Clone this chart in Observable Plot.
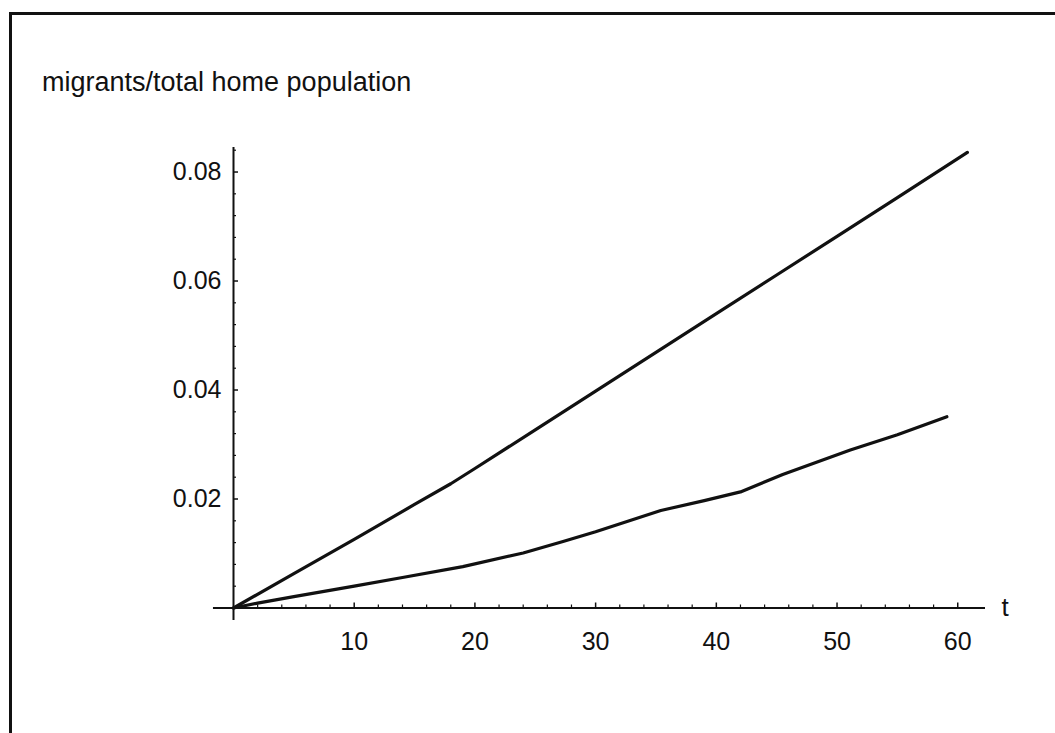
<!DOCTYPE html>
<html>
<head>
<meta charset="utf-8">
<script src="https://cdn.jsdelivr.net/npm/d3@7"></script>
<script src="https://cdn.jsdelivr.net/npm/@observablehq/plot@0.6"></script>
<style>
  html, body { margin: 0; padding: 0; background: #fff; overflow: hidden; width: 1055px; height: 733px; }
  #frame { position: absolute; left: 9px; top: 12px; width: 2000px; height: 2000px;
           border-left: 3px solid #111; border-top: 3px solid #111; pointer-events: none; }
  #title { position: absolute; left: 42px; top: 69px; font-family: "Liberation Sans", Arial, sans-serif;
           font-size: 27px; line-height: 27px; color: #111; white-space: nowrap; }
  #chart { position: absolute; left: 0; top: 0; }
</style>
</head>
<body>
<div id="frame"></div>
<div id="title">migrants/total home population</div>
<div id="chart"></div>
<script>
// ---- data ----
const tUpper = [0, 5, 10, 15, 18, 20, 25, 30, 35, 40, 45, 50, 55, 60.8];
const yUpper = [0, 0.0063, 0.0126, 0.0190, 0.0228, 0.0256, 0.0327, 0.0398, 0.0469, 0.0540, 0.0611, 0.0682, 0.0753, 0.0836];

const tLower = [0, 2, 5, 10, 14, 19, 24, 27.3, 30, 35.4, 39, 42, 45.5, 51.1, 55, 59.1];
const yLower = [0, 0.0009, 0.0021, 0.0040, 0.0056, 0.0076, 0.0101, 0.0122, 0.0140, 0.0179, 0.0197, 0.0213, 0.0245, 0.0290, 0.0318, 0.0351];

const xMajorTicks = [10, 20, 30, 40, 50, 60];
const xMajorLabels = ["10", "20", "30", "40", "50", "60"];
const xMinorTicks = [2, 4, 6, 8, 12, 14, 16, 18, 22, 24, 26, 28, 32, 34, 36, 38, 42, 44, 46, 48, 52, 54, 56, 58];
const yMajorTicks = [0.02, 0.04, 0.06, 0.08];
const yMajorLabels = ["0.02", "0.04", "0.06", "0.08"];
const yMinorTicks = [0.004, 0.008, 0.012, 0.016, 0.024, 0.028, 0.032, 0.036, 0.044, 0.048, 0.052, 0.056, 0.064, 0.068, 0.072, 0.076, 0.084];

const xDomain = [0, 62.3];
const xAxisStart = -1.66;
const yDomain = [0, 0.0845];
const yAxisStart = -0.0023;
const xAxisLabel = "t";

// ---- build tables ----
const upper = tUpper.map((t, i) => ({t, v: yUpper[i]}));
const lower = tLower.map((t, i) => ({t, v: yLower[i]}));
const xLab = xMajorTicks.map((x, i) => ({x, label: xMajorLabels[i]}));
const yLab = yMajorTicks.map((y, i) => ({y, label: yMajorLabels[i]}));

const ink = "#111";
const chart = Plot.plot({
  width: 1055,
  height: 733,
  marginLeft: 233,
  marginRight: 70,
  marginTop: 147,
  marginBottom: 125.5,
  style: {background: "transparent", fontFamily: "'Liberation Sans', Arial, sans-serif", color: ink},
  x: {domain: xDomain, axis: null},
  y: {domain: yDomain, axis: null},
  marks: [
    // axes lines
    Plot.ruleY([0], {x1: xAxisStart, x2: xDomain[1], stroke: ink, strokeWidth: 2.2}),
    Plot.ruleX([0], {y1: yAxisStart, y2: yDomain[1], stroke: ink, strokeWidth: 2}),
    // ticks
    Plot.axisX(xMajorTicks, {anchor: "bottom", tickSize: -5, fill: "none", stroke: ink, strokeWidth: 1.5, label: null}),
    Plot.axisX(xMinorTicks, {anchor: "bottom", tickSize: -3, fill: "none", stroke: ink, strokeWidth: 1.2, label: null}),
    Plot.axisY(yMajorTicks, {anchor: "left", tickSize: -5, fill: "none", stroke: ink, strokeWidth: 1.5, label: null}),
    Plot.axisY(yMinorTicks, {anchor: "left", tickSize: -3, fill: "none", stroke: ink, strokeWidth: 1.2, label: null}),
    // tick labels
    Plot.text(xLab, {x: "x", y: () => 0, text: "label", dy: 33.5, lineAnchor: "middle", textAnchor: "middle", fontSize: 25, fill: ink}),
    Plot.text(yLab, {x: () => 0, y: "y", text: "label", dx: -12, lineAnchor: "middle", textAnchor: "end", fontSize: 25, fill: ink}),
    Plot.text([xAxisLabel], {x: () => xDomain[1], y: () => 0, text: d => d, dx: 16, lineAnchor: "middle", textAnchor: "start", fontSize: 26, fill: ink}),
    // data lines
    Plot.line(upper, {x: "t", y: "v", stroke: ink, strokeWidth: 3.2, strokeLinejoin: "round", strokeLinecap: "round"}),
    Plot.line(lower, {x: "t", y: "v", stroke: ink, strokeWidth: 3.2, strokeLinejoin: "round", strokeLinecap: "round"})
  ]
});
document.getElementById("chart").appendChild(chart);
</script>
</body>
</html>
